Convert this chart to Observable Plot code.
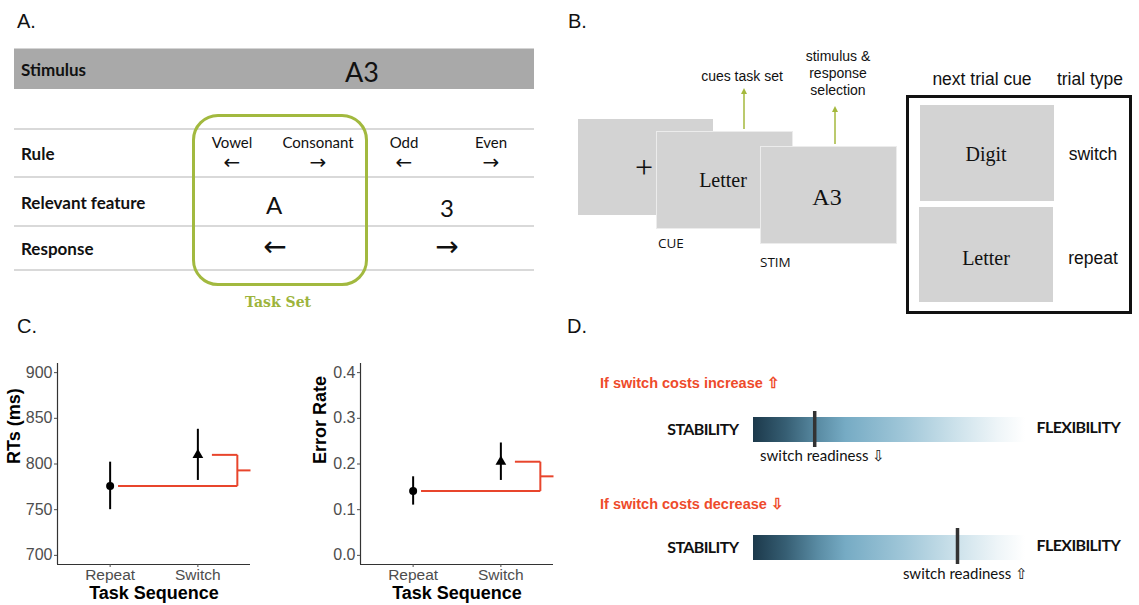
<!DOCTYPE html>
<html>
<head>
<meta charset="utf-8">
<script src="https://cdn.jsdelivr.net/npm/d3@7"></script>
<script src="https://cdn.jsdelivr.net/npm/@observablehq/plot@0.6"></script>
<style>
  body { margin: 0; background: #fff; }
  #fig { position: relative; width: 1139px; height: 605px; overflow: hidden; font-family: "Liberation Sans", Arial, sans-serif; color: #111; }
  .abs { position: absolute; white-space: nowrap; }
  .c { transform: translate(-50%, -50%); }
  .l { transform: translateY(-50%); }
  .panel { font-size: 20px; }
  .calib { font-family: Lato, "Open Sans", sans-serif; }
  .rowlab { font-family: Lato, sans-serif; font-weight: 700; font-size: 17px; }
  .rule { font-family: Lato, sans-serif; font-size: 15px; line-height: 1; }
  .arr { font-family: "DejaVu Sans", sans-serif; line-height: 0.8; }
  .hline { position: absolute; left: 14px; width: 520px; height: 2px; background: #d9d9d9; }
  .screen { position: absolute; background: #d3d3d3; box-sizing: border-box; }
  .serif { font-family: "Liberation Serif", "Times New Roman", serif; }
  .red { color: #ee4b2b; font-weight: bold; font-size: 14.5px; }
</style>
</head>
<body>
<div id="fig">
  <!-- Panel A: task rules -->
  <div class="abs l panel" style="left:17px;top:21px;">A.</div>
  <div class="abs" style="left:14px;top:48px;width:520px;height:41px;background:#a9a9a9;border-top:1px solid #d4d4d4;box-sizing:border-box;"></div>
  <div class="abs l rowlab" style="left:21px;top:69px;">Stimulus</div>
  <div class="abs c calib" style="left:362px;top:71px;font-size:27px;">A3</div>
  <div class="hline" style="top:128px;"></div>
  <div class="hline" style="top:176px;"></div>
  <div class="hline" style="top:225px;"></div>
  <div class="hline" style="top:269px;"></div>
  <div class="abs l rowlab" style="left:21px;top:153px;">Rule</div>
  <div class="abs l rowlab" style="left:21px;top:202px;">Relevant feature</div>
  <div class="abs l rowlab" style="left:21px;top:248px;">Response</div>
  <div class="abs c rule" style="left:232px;top:142px;">Vowel</div>
  <div class="abs c rule" style="left:318px;top:142px;">Consonant</div>
  <div class="abs c rule" style="left:404px;top:142px;">Odd</div>
  <div class="abs c rule" style="left:491px;top:142px;">Even</div>
  <div class="abs c arr" style="left:232px;top:162px;font-size:20px;">←</div>
  <div class="abs c arr" style="left:318px;top:162px;font-size:20px;">→</div>
  <div class="abs c arr" style="left:404px;top:162px;font-size:20px;">←</div>
  <div class="abs c arr" style="left:491px;top:162px;font-size:20px;">→</div>
  <div class="abs c calib" style="left:274px;top:204px;font-size:24px;">A</div>
  <div class="abs c calib" style="left:447px;top:207px;font-size:24px;">3</div>
  <div class="abs c arr" style="left:275px;top:247px;font-size:28px;">←</div>
  <div class="abs c arr" style="left:447px;top:247px;font-size:28px;">→</div>
  <div class="abs" style="left:192px;top:114px;width:176px;height:172px;border:3px solid #a2b93f;border-radius:26px;box-sizing:border-box;"></div>
  <div class="abs c" style="left:278px;top:302px;font-weight:bold;color:#9db43c;font-family:'DejaVu Serif',serif;font-size:14px;">Task Set</div>

  <!-- Panel B: trial sequence -->
  <div class="abs l panel" style="left:568px;top:21px;">B.</div>
  <div class="screen" style="left:578px;top:119px;width:135px;height:96px;"></div>
  <div class="abs c serif" style="left:644px;top:167px;font-size:32px;">+</div>
  <div class="screen" style="left:656px;top:131px;width:137px;height:98px;border:1.5px solid #ececec;"></div>
  <div class="abs c serif" style="left:723px;top:180px;font-size:20px;">Letter</div>
  <div class="screen" style="left:760px;top:146px;width:137px;height:98px;border:1.5px solid #ececec;"></div>
  <div class="abs c serif" style="left:827px;top:197px;font-size:24px;">A3</div>
  <div class="abs l" style="left:658px;top:243px;font-size:13.5px;font-family:'Open Sans',sans-serif;">CUE</div>
  <div class="abs l" style="left:760px;top:262px;font-size:13.5px;font-family:'Open Sans',sans-serif;">STIM</div>
  <div class="abs c" style="left:742px;top:76px;font-size:14px;">cues task set</div>
  <div class="abs c" style="left:838px;top:56px;font-size:14px;">stimulus &amp;</div>
  <div class="abs c" style="left:838px;top:73px;font-size:14px;">response</div>
  <div class="abs c" style="left:838px;top:90px;font-size:14px;">selection</div>
  <svg class="abs" style="left:0;top:0;" width="1139" height="605">
    <g stroke="#a4b83c" stroke-width="1.5" fill="#a4b83c">
      <line x1="744" y1="129" x2="744" y2="92"/>
      <path d="M741,94 L744,88 L747,94 Z" stroke="none"/>
      <line x1="835" y1="144" x2="835" y2="110"/>
      <path d="M832,112 L835,106 L838,112 Z" stroke="none"/>
    </g>
  </svg>
  <div class="abs c" style="left:982px;top:79px;font-size:17.5px;">next trial cue</div>
  <div class="abs c" style="left:1090px;top:79px;font-size:17.5px;">trial type</div>
  <div class="abs" style="left:906px;top:95px;width:226px;height:219px;border:3px solid #111;box-sizing:border-box;"></div>
  <div class="screen" style="left:920px;top:105px;width:134px;height:96px;"></div>
  <div class="screen" style="left:919px;top:207px;width:134px;height:95px;"></div>
  <div class="abs c serif" style="left:986px;top:154px;font-size:20px;">Digit</div>
  <div class="abs c serif" style="left:986px;top:258px;font-size:20px;">Letter</div>
  <div class="abs c" style="left:1093px;top:154px;font-size:17.5px;">switch</div>
  <div class="abs c" style="left:1093px;top:258px;font-size:17.5px;">repeat</div>

  <!-- Panel C: switch costs -->
  <div class="abs l panel" style="left:17px;top:326px;">C.</div>

  <!-- Panel D: stability / flexibility balance -->
  <div class="abs l panel" style="left:567px;top:326px;">D.</div>
  <div class="abs l red" style="left:600px;top:383px;">If switch costs increase ⇧</div>
  <div class="abs l red" style="left:600px;top:504px;">If switch costs decrease ⇩</div>
</div>

<script>
// Mean and error-bar half-width per task sequence
const conditions = ["Repeat", "Switch"];
const rtMean = [776, 810];
const rtErr = [26, 28];
const errMean = [0.141, 0.205];
const errErr = [0.031, 0.041];
const rtTicks = [700, 750, 800, 850, 900];
const errTicks = [0, 0.1, 0.2, 0.3, 0.4];

// Position of the switch-readiness marker on the stability–flexibility continuum
const readinessIncrease = 0.225;
const readinessDecrease = 0.75;

const fig = document.getElementById("fig");
const axisFont = "'Liberation Sans', Arial, sans-serif";

function place(svg, left, top) {
  svg.style.position = "absolute";
  svg.style.left = left + "px";
  svg.style.top = top + "px";
  svg.style.overflow = "visible";
  fig.appendChild(svg);
}

function costPlot(mean, err, domain, ticks, fmt, yLabel, labelDx) {
  const rows = conditions.map((c, i) => ({cond: c, x: i + 1, mean: mean[i], lo: mean[i] - err[i], hi: mean[i] + err[i]}));
  const lowY = mean[0], highY = mean[1], midY = (lowY + highY) / 2;
  const bx = 2.45;
  const bracket = [
    {x1: 1.09, y1: lowY, x2: bx, y2: lowY},
    {x1: 2.16, y1: highY, x2: bx, y2: highY},
    {x1: bx, y1: lowY, x2: bx, y2: highY},
    {x1: bx, y1: midY, x2: 2.6, y2: midY}
  ];
  return Plot.plot({
    width: 260, height: 250,
    marginTop: 8, marginBottom: 41, marginLeft: 57, marginRight: 10,
    style: {fontFamily: axisFont, background: "transparent"},
    x: {domain: [0.4, 2.6], axis: null},
    y: {domain, axis: null},
    marks: [
      Plot.ruleX([0.4], {stroke: "#333", strokeWidth: 1.2}),
      Plot.ruleY([domain[0]], {stroke: "#333", strokeWidth: 1.2}),
      Plot.axisX([1, 2], {tickFormat: d => conditions[d - 1], tickSize: 3, tickPadding: 1, fontSize: 15.5, color: "#4d4d4d", label: null}),
      Plot.axisY(ticks, {tickFormat: fmt, tickSize: 3, tickPadding: 2, fontSize: 16, color: "#4d4d4d", label: null}),
      Plot.link(bracket, {x1: "x1", y1: "y1", x2: "x2", y2: "y2", stroke: "#e8452c", strokeWidth: 2}),
      Plot.ruleX(rows, {x: "x", y1: "lo", y2: "hi", stroke: "black", strokeWidth: 2}),
      Plot.dot(rows.slice(0, 1), {x: "x", y: "mean", symbol: "circle", r: 4, fill: "black"}),
      Plot.dot(rows.slice(1), {x: "x", y: "mean", symbol: "triangle", r: 4, fill: "black"}),
      Plot.text(["Task Sequence"], {frameAnchor: "bottom", dy: 34, fontSize: 18, fontWeight: "bold", fill: "black"}),
      Plot.text([yLabel], {frameAnchor: "left", dx: labelDx, rotate: -90, fontSize: 18, fontWeight: "bold", fill: "black"})
    ]
  });
}

place(costPlot(rtMean, rtErr, [690, 910], rtTicks, d3.format("d"), "RTs (ms)", -43), 0, 355);
place(costPlot(errMean, errErr, [-0.02, 0.42], errTicks, d3.format(".1f"), "Error Rate", -40), 303, 355);

// Continuum bar: dark (stability) to white (flexibility)
const gradientStops = [
  [0, "#1c394b"], [0.12, "#365e73"], [0.24, "#5a8ca4"], [0.34, "#76abc4"],
  [0.55, "#9fc6d8"], [0.75, "#cde2eb"], [0.9, "#eef5f8"], [1, "#ffffff"]
];

function continuumPlot(readiness, arrowText, gid, insetTop, insetBottom) {
  const svg = Plot.plot({
    width: 579, height: 70,
    marginTop: 12, marginBottom: 33, marginLeft: 193, marginRight: 114,
    style: {background: "transparent"},
    x: {domain: [0, 1], axis: null},
    marks: [
      Plot.barX([{a: 0, b: 1}], {x1: "a", x2: "b", fill: `url(#${gid})`, insetTop: 0, insetBottom: 0}),
      Plot.ruleX([readiness], {stroke: "#333", strokeWidth: 3.5, insetTop, insetBottom}),
      Plot.text(["STABILITY"], {frameAnchor: "left", textAnchor: "end", dx: -15, fontSize: 16, fontWeight: "bold", fill: "#111", fontFamily: "Lato, sans-serif"}),
      Plot.text(["FLEXIBILITY"], {frameAnchor: "right", textAnchor: "start", dx: 11, dy: -2, fontSize: 16, fontWeight: "bold", fill: "#111", fontFamily: "Lato, sans-serif"}),
      Plot.text([readiness], {x: d => d, text: () => arrowText, frameAnchor: "bottom", dy: 18, dx: 8, fontSize: 15, fill: "#111", fontFamily: "Lato, sans-serif"})
    ]
  });
  svg.querySelectorAll("text").forEach(t => { if (/BILITY/.test(t.textContent)) t.style.letterSpacing = "-0.6px"; });
  const grad = d3.select(svg).insert("defs", ":first-child").append("linearGradient").attr("id", gid);
  for (const [o, c] of gradientStops) grad.append("stop").attr("offset", o).attr("stop-color", c);
  return svg;
}

place(continuumPlot(readinessIncrease, "switch readiness ⇩", "gradUp", -6, -5), 560, 405);
place(continuumPlot(readinessDecrease, "switch readiness ⇧", "gradDown", -7, -4), 560, 523);
</script>
</body>
</html>
